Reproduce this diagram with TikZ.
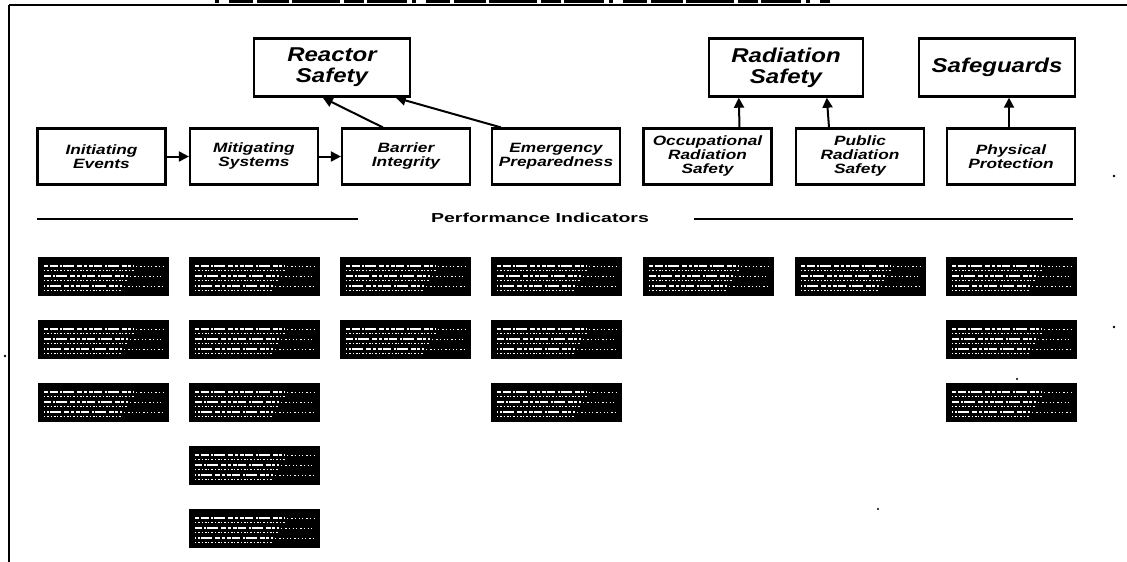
\documentclass[tikz,border=0pt]{standalone}
\usepackage{fontspec}
\setmainfont{Liberation Sans}
\newfontfamily\topfnt[FakeStretch=1.2]{Liberation Sans}
\newfontfamily\midfnt[FakeStretch=1.28]{Liberation Sans}
\newfontfamily\perffnt[FakeStretch=1.5]{Liberation Sans}
\usetikzlibrary{arrows.meta,calc}
\tikzset{
  topbox/.style={draw, line width=2.4pt, minimum width=156pt, minimum height=58pt, inner sep=0pt, align=center,
    font=\topfnt\bfseries\itshape\fontsize{20}{21}\selectfont},
  midbox/.style={draw, line width=2.2pt, minimum width=128pt, minimum height=56pt, inner sep=0pt, align=center,
    font=\midfnt\bfseries\itshape\fontsize{13.5}{14}\selectfont},
  pibox/.style={fill=black, draw=black, line width=0.6pt, minimum width=130pt, minimum height=38pt, inner sep=0pt,
    path picture={
      \foreach \yy/\ph/\ln in {9/0/90,19/7/84,29/13/78}{
        \draw[white, line width=1.5pt, dash pattern=on 4pt off 1.5pt on 8pt off 2.5pt on 2pt off 1pt on 11pt off 3pt on 5pt off 1.5pt on 3pt off 2pt, dash phase=\ph pt]
          ($(path picture bounding box.north west)+(6,\yy)$) -- ++(\ln,0);
        \draw[white, line width=0.8pt, dash pattern=on 1pt off 2pt on 2pt off 1.5pt]
          ($(path picture bounding box.north west)+(6,\yy+4.5)$) -- ++(\ln,0);
        \draw[white, line width=1pt, dash pattern=on 1pt off 3pt on 1.5pt off 2pt]
          ($(path picture bounding box.north west)+(\ln+8,\yy)$) -- ($(path picture bounding box.north east)+(-5,\yy)$);
      }}},
  arr/.style={line width=2pt, -{Triangle[length=10pt,width=10pt]}},
  rule/.style={line width=2.2pt},
  speck/.style={fill=black}
}
\begin{document}
\begin{tikzpicture}[x=1pt,y=-1pt]
\useasboundingbox (0,0) rectangle (1127,562);
% frame
\coordinate (fTL) at (9,5);
\coordinate (fTR) at (1127,5);
\coordinate (fBL) at (9,562);
\draw[line width=2pt] (fTR) -- (fTL);
\draw[line width=1.5pt] (fTL) -- (fBL);
\coordinate (tA) at (215,1.5);
\coordinate (tB) at (830,1.5);
\draw[line width=3.5pt, dash pattern=on 4pt off 10pt on 24pt off 4pt on 32pt off 3pt on 48pt off 4pt on 20pt off 3pt on 40pt off 5pt] (tA) -- (tB);
% top row
\node[topbox] (RS) at (332,67.5) {Reactor\\Safety};
\node[topbox, minimum width=154pt] (RadS) at (786,67.5) {Radiation\\Safety};
\node[topbox] (SG) at (997,67.5) {Safeguards};
% second row
\node[midbox] (IE) at (101.5,156.5) {Initiating\\Events};
\node[midbox] (MS) at (254,156.5) {Mitigating\\Systems};
\node[midbox] (BI) at (406,156.5) {Barrier\\Integrity};
\node[midbox] (EP) at (556,156.5) {Emergency\\Preparedness};
\node[midbox] (ORS) at (707.5,156.5) {Occupational\\Radiation\\Safety};
\node[midbox] (PRS) at (860,156.5) {Public\\Radiation\\Safety};
\node[midbox] (PP) at (1011,156.5) {Physical\\Protection};
% connectors
\draw[arr] (IE) -- (MS);
\draw[arr] (MS) -- (BI);
\draw[arr] ($(BI.north west)+(42,0)$) -- ($(RS.south west)+(70,0)$);
\draw[arr] ($(EP.north west)+(10,0)$) -- ($(RS.south west)+(143,0)$);
\draw[arr] ($(ORS.north)+(32,0)$) -- ($(RadS.south west)+(31,0)$);
\draw[arr] ($(PRS.north)+(-31,0)$) -- ($(RadS.south west)+(119,0)$);
\draw[arr] ($(PP.north)+(-2,0)$) -- ($(SG.south)+(12,0)$);
% performance indicators header
\node[font=\perffnt\bfseries\fontsize{13}{14}\selectfont] (PI) at (540,218) {Performance Indicators};
\coordinate (l1a) at (37,219);
\coordinate (l1b) at (358,219);
\coordinate (l2a) at (694,219);
\coordinate (l2b) at (1073,219);
\draw[rule] (l1a) -- (l1b);
\draw[rule] (l2a) -- (l2b);
% indicator boxes
\node[pibox] (c1r1) at (103,276) {};
\node[pibox] (c2r1) at (254,276) {};
\node[pibox] (c3r1) at (405,276) {};
\node[pibox] (c4r1) at (556,276) {};
\node[pibox] (c5r1) at (708,276) {};
\node[pibox] (c6r1) at (860,276) {};
\node[pibox] (c7r1) at (1011,276) {};
\node[pibox] (c1r2) at (103,339) {};
\node[pibox] (c2r2) at (254,339) {};
\node[pibox] (c3r2) at (405,339) {};
\node[pibox] (c4r2) at (556,339) {};
\node[pibox] (c7r2) at (1011,339) {};
\node[pibox] (c1r3) at (103,402) {};
\node[pibox] (c2r3) at (254,402) {};
\node[pibox] (c4r3) at (556,402) {};
\node[pibox] (c7r3) at (1011,402) {};
\node[pibox] (c2r4) at (254,465) {};
\node[pibox] (c2r5) at (254,528) {};
% specks
\fill[speck] (1114,176) circle (1.3);
\fill[speck] (1114,327) circle (1.3);
\fill[speck] (1017,379) circle (1.1);
\fill[speck] (878,509) circle (1.1);
\fill[speck] (5,356) circle (1.3);
\end{tikzpicture}
\end{document}
